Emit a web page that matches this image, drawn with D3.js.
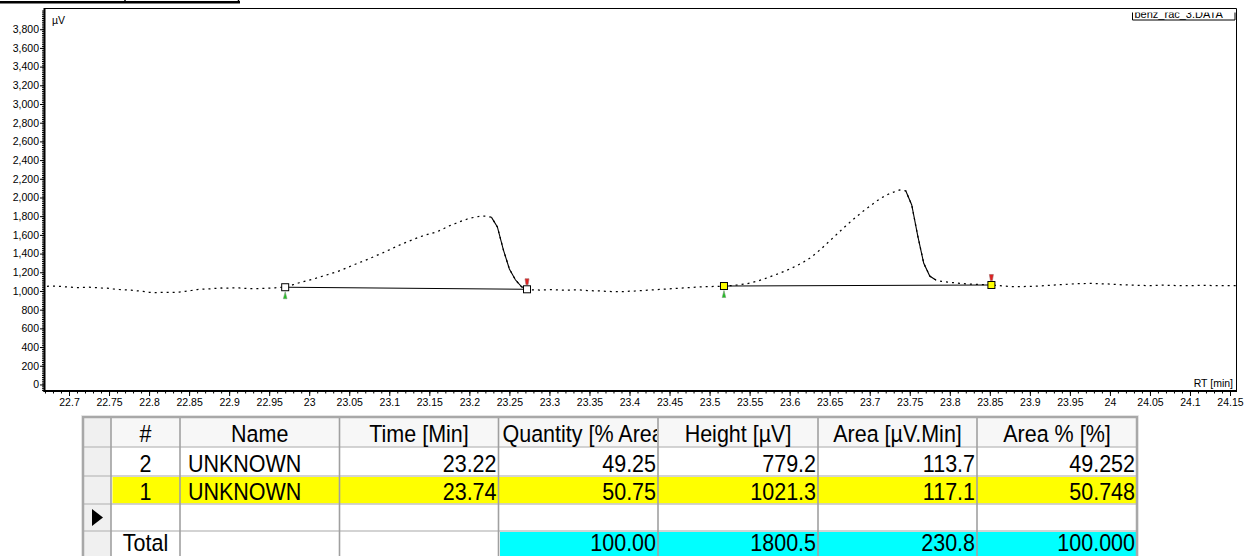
<!DOCTYPE html>
<html>
<head>
<meta charset="utf-8">
<script src="https://cdn.jsdelivr.net/npm/d3@7"></script>
<style>
  html, body { margin: 0; padding: 0; background: #fff; }
  svg { display: block; }
  text { font-family: "Liberation Sans", Arial, sans-serif; }
</style>
</head>
<body>
<svg id="chart" width="1245" height="556"></svg>
<script>
// ---- Detector trace (µV), one sample every 0.0075 min from 22.6725 min ----
const traceStart = 22.6725;
const traceStep = 0.0075;
const traceValues = [
  1050, 1052, 1050, 1045, 1040, 1036, 1038, 1040, 1036, 1032,
  1030, 1022, 1016, 1012, 1008, 1002, 995, 986, 982, 984,
  986, 985, 988, 995, 1005, 1015, 1020, 1022, 1028, 1032,
  1030, 1034, 1032, 1028, 1024, 1026, 1028, 1030, 1034, 1038,
  1045, 1067, 1088, 1105, 1122, 1140, 1160, 1180, 1200, 1222,
  1250, 1277, 1303, 1328, 1355, 1383, 1410, 1440, 1470, 1500,
  1526, 1552, 1577, 1598, 1616, 1634, 1665, 1697, 1722, 1748,
  1770, 1786, 1798, 1801, 1790, 1685, 1440, 1235, 1120, 1046,
  1016, 1012, 1010, 1012, 1015, 1012, 1008, 1010, 1012, 1010,
  1005, 1002, 1000, 996, 994, 992, 994, 998, 1000, 1004,
  1008, 1012, 1016, 1020, 1024, 1028, 1032, 1036, 1040, 1044,
  1046, 1048, 1050, 1054, 1058, 1064, 1072, 1084, 1100, 1120,
  1142, 1166, 1190, 1216, 1244, 1275, 1310, 1350, 1400, 1455,
  1515, 1575, 1635, 1695, 1752, 1806, 1858, 1906, 1955, 1998,
  2032, 2058, 2080, 2072, 1920, 1590, 1296, 1160, 1118, 1102,
  1094, 1088, 1082, 1077, 1073, 1070, 1067, 1065, 1060, 1055,
  1050, 1046, 1046, 1048, 1050, 1052, 1056, 1060, 1064, 1068,
  1072, 1076, 1078, 1080, 1080, 1078, 1076, 1074, 1070, 1066,
  1064, 1062, 1060, 1058, 1058, 1060, 1062, 1060, 1058, 1056,
  1056, 1058, 1060, 1060, 1058, 1056, 1056, 1058, 1058
];

// ---- Integration events (start / end of each peak, chart order) ----
const peakStartTimes = [22.970, 23.518];
const peakStartValues = [1040, 1053];
const peakEndTimes = [23.272, 23.852];
const peakEndValues = [1018, 1064];
const peakHighlighted = [false, true];

// ---- Axis ticks ----
const yTickValues = [0, 200, 400, 600, 800, 1000, 1200, 1400, 1600, 1800, 2000,
  2200, 2400, 2600, 2800, 3000, 3200, 3400, 3600, 3800];
const xTickValues = [22.7, 22.75, 22.8, 22.85, 22.9, 22.95, 23, 23.05, 23.1, 23.15,
  23.2, 23.25, 23.3, 23.35, 23.4, 23.45, 23.5, 23.55, 23.6, 23.65,
  23.7, 23.75, 23.8, 23.85, 23.9, 23.95, 24, 24.05, 24.1, 24.15];

// ---- Peak table ----
const columnHeaders = ["#", "Name", "Time [Min]", "Quantity [% Area]", "Height [µV]", "Area [µV.Min]", "Area % [%]"];
const peakIds = ["2", "1"];
const peakNames = ["UNKNOWN", "UNKNOWN"];
const peakTimes = [23.22, 23.74];
const peakQuantities = [49.25, 50.75];
const peakHeights = [779.2, 1021.3];
const peakAreas = [113.7, 117.1];
const peakAreaPercents = [49.252, 50.748];
const totalQuantity = 100.00;
const totalHeight = 1800.5;
const totalArea = 230.8;
const totalAreaPercent = 100.000;

const svg = d3.select("#chart");

// ================= Chromatogram =================
const x = d3.scaleLinear().domain([22.6694, 24.1581]).range([44.5, 1236.5]);
const y = d3.scaleLinear().domain([-70, 4027]).range([391, 8]);

// header strip remnant at the top-left
svg.append("line").attr("x1", 0).attr("x2", 240).attr("y1", 2.2).attr("y2", 2.2)
  .attr("stroke", "#000").attr("stroke-width", 2.4);
[125, 238.5].forEach(px => svg.append("line")
  .attr("x1", px).attr("x2", px).attr("y1", 0).attr("y2", 3)
  .attr("stroke", "#000").attr("stroke-width", 1.5));

// plot frame (top and right)
svg.append("path")
  .attr("d", `M${x.range()[0]},8.5 H${x.range()[1]} V391`)
  .attr("fill", "none").attr("stroke", "#000").attr("stroke-width", 1);

// y axis: minor and major ticks
const gyMinor = svg.append("g").attr("transform", "translate(44,0)")
  .call(d3.axisLeft(y).tickValues(d3.range(-60, 4020, 20)).tickSize(2).tickFormat(""));
gyMinor.select(".domain").remove();
gyMinor.selectAll("line").attr("stroke", "#000");

const gy = svg.append("g").attr("transform", "translate(44,0)")
  .call(d3.axisLeft(y).tickValues(yTickValues).tickFormat(d3.format(",")).tickSize(4).tickPadding(1));
gy.select(".domain").remove();
gy.attr("font-family", "'Liberation Sans', Arial, sans-serif").attr("font-size", 10.5);
gy.selectAll("line").attr("stroke", "#000");
gy.selectAll("text").attr("fill", "#000");

// x axis: minor and major ticks
const gxMinor = svg.append("g").attr("transform", "translate(0,391)")
  .call(d3.axisBottom(x).tickValues(d3.range(22.67, 24.159, 0.01)).tickSize(2.5).tickFormat(""));
gxMinor.select(".domain").remove();
gxMinor.selectAll("line").attr("stroke", "#000");

const gx = svg.append("g").attr("transform", "translate(0,391)")
  .call(d3.axisBottom(x).tickValues(xTickValues).tickSize(5).tickPadding(3)
    .tickFormat(d => String(+d.toFixed(2))));
gx.select(".domain").remove();
gx.attr("font-family", "'Liberation Sans', Arial, sans-serif").attr("font-size", 10.5);
gx.selectAll("line").attr("stroke", "#000");
gx.selectAll("text").attr("fill", "#000");

// axis lines
svg.append("line").attr("x1", 44.5).attr("x2", 44.5).attr("y1", 8).attr("y2", 392)
  .attr("stroke", "#000").attr("stroke-width", 2);
svg.append("line").attr("x1", 43.5).attr("x2", 1237).attr("y1", 391).attr("y2", 391)
  .attr("stroke", "#000").attr("stroke-width", 2);

// axis captions
svg.append("text").attr("x", 52).attr("y", 23.5).attr("font-size", 10.5).text("µV");
svg.append("text").attr("x", 1233).attr("y", 386.5).attr("font-size", 10.5)
  .attr("text-anchor", "end").text("RT [min]");

// data file tag
svg.append("clipPath").attr("id", "tagClip")
  .append("rect").attr("x", 1132.5).attr("y", 12.5).attr("width", 102.5).attr("height", 8);
svg.append("path").attr("d", "M1132.5,12.5 V20 H1235 V12.5")
  .attr("fill", "none").attr("stroke", "#000").attr("stroke-width", 1);
svg.append("text").attr("x", 1134.5).attr("y", 18.2).attr("font-size", 11)
  .attr("clip-path", "url(#tagClip)").text("benz_rac_3.DATA");

// trace
const trace = traceValues.map((v, i) => ({ t: traceStart + i * traceStep, v }));
trace.forEach((d, i) => {
  const fallIn = i > 0 && d.v - trace[i - 1].v <= -25;
  const fallOut = i < trace.length - 1 && trace[i + 1].v - d.v <= -25;
  d.steep = fallIn || fallOut;
});
const traceLine = d3.line().x(d => x(d.t)).y(d => y(d.v));
svg.append("path")
  .attr("d", traceLine(trace))
  .attr("fill", "none").attr("stroke", "#000").attr("stroke-width", 1.25)
  .attr("stroke-dasharray", "2,4");
// steep falling edges are drawn as a continuous stroke
svg.append("path")
  .attr("d", traceLine.defined(d => d.steep)(trace))
  .attr("fill", "none").attr("stroke", "#000").attr("stroke-width", 1.1);

// integration baselines and event markers
const peaks = peakStartTimes.map((t, i) => ({
  t0: t, v0: peakStartValues[i], t1: peakEndTimes[i], v1: peakEndValues[i], hi: peakHighlighted[i]
}));
const pg = svg.append("g");
pg.selectAll(".base").data(peaks).join("line")
  .attr("x1", d => x(d.t0)).attr("y1", d => y(d.v0))
  .attr("x2", d => x(d.t1)).attr("y2", d => y(d.v1))
  .attr("stroke", "#000").attr("stroke-width", 1);

// green start pins (below) and red end pins (above)
pg.selectAll(".startPin").data(peaks).join("path")
  .attr("d", d => { const px = x(d.t0), py = y(d.v0);
    return `M${px - 1.8},${py + 11.5} L${px + 1.8},${py + 11.5} L${px},${py + 4.5} Z`; })
  .attr("fill", "#20c020").attr("stroke", "#7a9a7a").attr("stroke-width", 0.6);
pg.selectAll(".endPin").data(peaks).join("path")
  .attr("d", d => { const px = x(d.t1), py = y(d.v1);
    return `M${px - 2},${py - 10.5} L${px + 2},${py - 10.5} L${px + 1},${py - 4.5} L${px - 1},${py - 4.5} Z`; })
  .attr("fill", "#e02020").attr("stroke", "#a06060").attr("stroke-width", 0.6);

const events = peaks.flatMap(d => [{ t: d.t0, v: d.v0, hi: d.hi }, { t: d.t1, v: d.v1, hi: d.hi }]);
pg.selectAll(".box").data(events).join("rect")
  .attr("x", d => x(d.t) - 3.5).attr("y", d => y(d.v) - 3.5)
  .attr("width", 7).attr("height", 7)
  .attr("fill", d => d.hi ? "#ffff00" : "#fff")
  .attr("stroke", "#000").attr("stroke-width", 1);

// ================= Peak table =================
const colX = [83, 111, 180, 339.5, 498.5, 658, 818, 977, 1137];
const rowY = [417, 447, 476, 504, 531, 562];
const baselineOffset = [24.5, 24.5, 24, 24, 20];
const tableFont = 21.5;
const tg = svg.append("g").attr("font-size", tableFont);

// places a cell text with a slightly tall glyph shape
function cellText(sel, s, px, py, anchor) {
  return sel.append("text")
    .attr("transform", `translate(${px},${py}) scale(1,1.08)`)
    .attr("text-anchor", anchor).attr("fill", "#000").text(s);
}

tg.append("rect").attr("x", colX[0]).attr("y", rowY[0])
  .attr("width", colX[8] - colX[0]).attr("height", rowY[5] - rowY[0]).attr("fill", "#fff");
tg.append("rect").attr("x", colX[0]).attr("y", rowY[0])
  .attr("width", colX[1] - colX[0]).attr("height", rowY[5] - rowY[0]).attr("fill", "#f0f0f0");
tg.append("rect").attr("x", colX[1]).attr("y", rowY[0])
  .attr("width", colX[8] - colX[1]).attr("height", rowY[1] - rowY[0]).attr("fill", "#f7f7f7");

const bodyRows = peakIds.map((id, i) => ({
  hi: peakHighlighted[i],
  cells: [id, peakNames[i], peakTimes[i].toFixed(2), peakQuantities[i].toFixed(2),
    peakHeights[i].toFixed(1), peakAreas[i].toFixed(1), peakAreaPercents[i].toFixed(3)]
}));
bodyRows.push({ hi: false, newRow: true, cells: ["", "", "", "", "", "", ""] });
bodyRows.push({ hi: false, total: true, cells: ["Total", "", "", totalQuantity.toFixed(2),
  totalHeight.toFixed(1), totalArea.toFixed(1), totalAreaPercent.toFixed(3)] });

// row highlights
bodyRows.forEach((r, i) => {
  const top = rowY[i + 1], bottom = rowY[i + 2];
  if (r.hi) tg.append("rect").attr("x", colX[1] + 1.5).attr("y", top + 1)
    .attr("width", colX[8] - colX[1] - 1.5).attr("height", bottom - top - 1.5).attr("fill", "#ffff00");
  if (r.total) tg.append("rect").attr("x", colX[4] + 1.5).attr("y", top + 1)
    .attr("width", colX[8] - colX[4] - 1.5).attr("height", bottom - top).attr("fill", "#00ffff");
});

// grid
tg.selectAll(".hgrid").data(rowY.slice(1, 5)).join("line")
  .attr("x1", colX[0]).attr("x2", colX[8]).attr("y1", d => d).attr("y2", d => d)
  .attr("stroke", "#c4c4c4").attr("stroke-width", 1.6);
tg.selectAll(".vgrid").data(colX.slice(1, 8)).join("line")
  .attr("x1", d => d).attr("x2", d => d).attr("y1", rowY[0]).attr("y2", 556)
  .attr("stroke", "#a0a0a0").attr("stroke-width", 1.6);
tg.append("path")
  .attr("d", `M${colX[0]},556 V${rowY[0]} H${colX[8]} V556`)
  .attr("fill", "none").attr("stroke", "#a8a8a8").attr("stroke-width", 2.5);
tg.append("path")
  .attr("d", `M${colX[0] - 1.5},556 V${rowY[0] - 1.5} H${colX[8] + 1.5} V556`)
  .attr("fill", "none").attr("stroke", "#e4e4e4").attr("stroke-width", 1);

// header texts, clipped to their cells
columnHeaders.forEach((h, c) => {
  const left = colX[c + 1], right = colX[c + 2];
  const id = "hclip" + c;
  svg.append("clipPath").attr("id", id).append("rect")
    .attr("x", left + 1).attr("y", rowY[0]).attr("width", right - left - 2).attr("height", rowY[1] - rowY[0]);
  const holder = tg.append("g").attr("clip-path", `url(#${id})`);
  const probe = holder.append("text").text(h);
  const w = probe.node().getComputedTextLength();
  probe.remove();
  if (w > right - left - 8) cellText(holder, h, left + 4, rowY[0] + baselineOffset[0], "start");
  else cellText(holder, h, (left + right) / 2, rowY[0] + baselineOffset[0], "middle");
});

// body texts
bodyRows.forEach((r, i) => {
  const base = rowY[i + 1] + baselineOffset[i + 1];
  r.cells.forEach((s, c) => {
    if (!s) return;
    const left = colX[c + 1], right = colX[c + 2];
    if (c === 0) cellText(tg, s, (left + right) / 2, base, "middle");
    else if (c === 1) cellText(tg, s, left + 8, base, "start");
    else cellText(tg, s, right - 2, base, "end");
  });
  if (r.newRow) {
    const top = rowY[i + 1];
    tg.append("path").attr("d", `M92,${top + 5} V${top + 22} L103,${top + 13.5} Z`).attr("fill", "#000");
  }
});
</script>
</body>
</html>
